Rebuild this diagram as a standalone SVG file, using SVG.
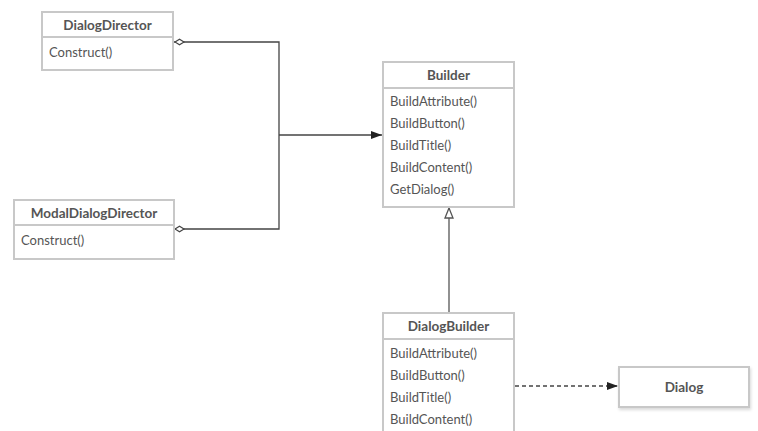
<svg xmlns="http://www.w3.org/2000/svg" width="758" height="431" viewBox="0 0 758 431">
<style>
.box{fill:#fff;stroke:#c8c8c8;stroke-width:2}
.div{stroke:#c8c8c8;stroke-width:2}
.t{font-family:Lato,"Open Sans",sans-serif;font-size:13px;fill:#555}
.h{font-family:Lato,"Open Sans",sans-serif;font-size:13.5px;font-weight:bold;fill:#555;text-anchor:middle}
.ln{fill:none;stroke:#444;stroke-width:1.3}
</style>
<defs>
<marker id="dia" viewBox="0 0 12 8" refX="0" refY="4" markerWidth="12" markerHeight="8" markerUnits="userSpaceOnUse" orient="auto">
<path d="M1,4 L5.5,1.2 L10,4 L5.5,6.8 Z" fill="#fff" stroke="#444" stroke-width="1.2"/>
</marker>
<marker id="arr" viewBox="0 0 12 10" refX="11" refY="5" markerWidth="12" markerHeight="10" markerUnits="userSpaceOnUse" orient="auto">
<path d="M0,1 L11,5 L0,9 Z" fill="#222"/>
</marker>
<marker id="tri" viewBox="0 0 12 12" refX="11" refY="6" markerWidth="12" markerHeight="12" markerUnits="userSpaceOnUse" orient="auto">
<path d="M1,2 L11,6 L1,10 Z" fill="#fff" stroke="#555" stroke-width="1.3"/>
</marker>
<filter id="sh" x="-10%" y="-20%" width="125%" height="150%">
<feDropShadow dx="1" dy="2" stdDeviation="1.5" flood-color="#000" flood-opacity="0.15"/>
</filter>
</defs>

<g id="connectors">
<path class="ln" d="M174,42 H279 V135" marker-start="url(#dia)"/>
<path class="ln" d="M174,229 H279 V135" marker-start="url(#dia)"/>
<path class="ln" d="M279,135 H382" marker-end="url(#arr)"/>
<path class="ln" d="M449,313 V208" marker-end="url(#tri)" style="stroke:#555"/>
<path class="ln" d="M515,386 H618" stroke-dasharray="4,3" marker-end="url(#arr)"/>
</g>

<g id="DialogDirector">
<rect class="box" x="42" y="12" width="131" height="58"/>
<line class="div" x1="42" y1="37" x2="173" y2="37"/>
<text class="h" x="107.5" y="29.5">DialogDirector</text>
<text class="t" x="49" y="57">Construct()</text>
</g>

<g id="ModalDialogDirector">
<rect class="box" x="14" y="200" width="160" height="59"/>
<line class="div" x1="14" y1="225" x2="174" y2="225"/>
<text class="h" x="94" y="217.5">ModalDialogDirector</text>
<text class="t" x="21" y="245">Construct()</text>
</g>

<g id="Builder">
<rect class="box" x="383" y="62" width="131" height="145"/>
<line class="div" x1="383" y1="88" x2="514" y2="88"/>
<text class="h" x="448.5" y="79.5">Builder</text>
<text class="t" x="390" y="106">BuildAttribute()</text>
<text class="t" x="390" y="128">BuildButton()</text>
<text class="t" x="390" y="150">BuildTitle()</text>
<text class="t" x="390" y="172">BuildContent()</text>
<text class="t" x="390" y="194">GetDialog()</text>
</g>

<g id="DialogBuilder">
<rect class="box" x="383" y="313" width="131" height="130"/>
<line class="div" x1="383" y1="339" x2="514" y2="339"/>
<text class="h" x="448.5" y="330.5">DialogBuilder</text>
<text class="t" x="390" y="358">BuildAttribute()</text>
<text class="t" x="390" y="380">BuildButton()</text>
<text class="t" x="390" y="402">BuildTitle()</text>
<text class="t" x="390" y="424">BuildContent()</text>
</g>

<g id="Dialog">
<rect class="box" x="619" y="367" width="130" height="40" filter="url(#sh)"/>
<text class="h" x="684" y="391.5">Dialog</text>
</g>
</svg>
